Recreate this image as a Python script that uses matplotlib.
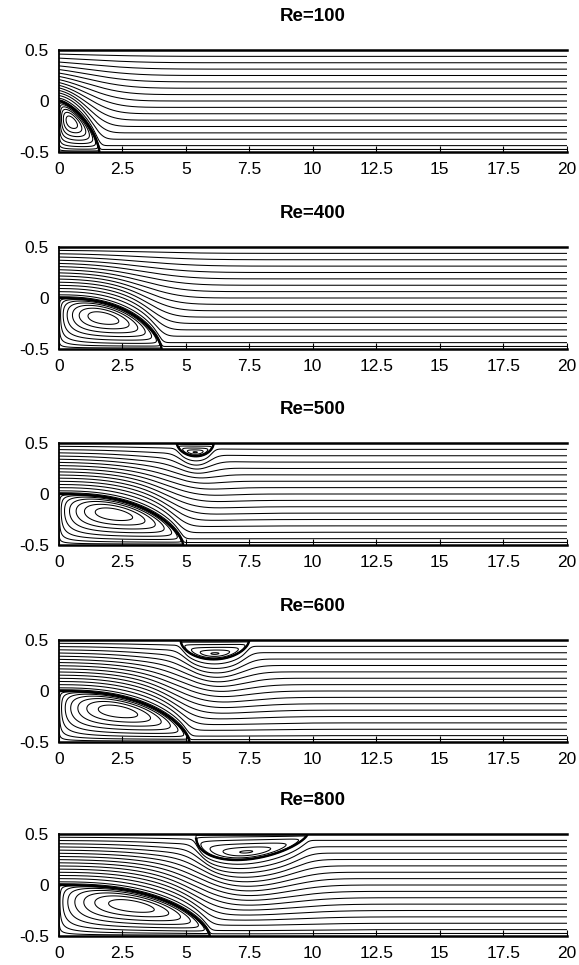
import numpy as np
import matplotlib
matplotlib.use("Agg")
import matplotlib.pyplot as plt

plt.rcParams['font.family'] = ['Liberation Sans', 'DejaVu Sans']

# Reynolds numbers of the five panels
re_values = [100, 400, 500, 600, 800]

# primary eddy behind the step (bottom wall): reattachment length, shape, centre (fraction)
lower_len = [1.6, 4.05, 4.9, 5.15, 5.95]
lower_shape = [1.5, 2.5, 2.5, 2.5, 2.5]
lower_centre = [0.31, 0.43, 0.44, 0.45, 0.48]

# secondary eddy on the top wall (depth 0 = none)
upper_start = [0.0, 0.0, 4.65, 4.8, 5.4]
upper_end = [0.0, 0.0, 6.1, 7.5, 9.8]
upper_depth = [0.0, 0.0, 0.13, 0.19, 0.255]
upper_low_x = [0.0, 0.0, 5.4, 6.1, 7.0]
upper_centre = [0.5, 0.5, 0.5, 0.5, 0.45]

x_ticks = [0, 2.5, 5, 7.5, 10, 12.5, 15, 17.5, 20]
x_labels = ['0', '2.5', '5', '7.5', '10', '12.5', '15', '17.5', '20']
y_ticks = [-0.5, 0, 0.5]
y_labels = ['-0.5', '0', '0.5']

# streamline levels
main_levels = [0.025] + [k / 16 for k in range(1, 16)]
lower_levels = [0.004, 0.03, 0.1, 0.22, 0.38, 0.56, 0.74, 0.9]
upper_levels = [0.004, 0.04, 0.2, 0.5, 0.8, 0.985]

x = np.linspace(0, 20, 2001)
y = np.linspace(-0.5, 0.5, 501)
dx = x[1] - x[0]
XX, YY = np.meshgrid(x, y)


def lower_height(xv, L, p):
    s = np.clip(xv / L, 0, 1)
    return 0.5 * (1 - s ** p) ** (1 / 1.5)


def upper_dip(xv, a, b, d, xl):
    if d <= 0:
        return np.zeros_like(xv)
    s = np.clip((xv - a) / (b - a), 0, 1)
    sl = (xl - a) / (b - a)
    m, n = 1.1 * sl, 1.1 * (1 - sl)
    return d * s ** m * (1 - s) ** n / (sl ** m * (1 - sl) ** n)


def smooth(v, sigma):
    if sigma < dx:
        return v
    half = int(4 * sigma / dx)
    k = np.exp(-0.5 * (np.arange(-half, half + 1) * dx / sigma) ** 2)
    k /= k.sum()
    vp = np.concatenate([np.full(half, v[0]), v, np.full(half, v[-1])])
    return np.convolve(vp, k, mode='valid')


fig = plt.figure(figsize=(5.79, 9.65), dpi=100)
tops = [50, 247, 443, 640, 834]

for i, re in enumerate(re_values):
    ax = fig.add_axes([58.7 / 579, 1 - (tops[i] + 102) / 965, 508 / 579, 102 / 965])

    L = lower_len[i]
    h = lower_height(x, L, lower_shape[i])
    B = -0.5 + h
    D = upper_dip(x, upper_start[i], upper_end[i], upper_depth[i], upper_low_x[i])
    T = 0.5 - D

    # primary eddy
    hh = lower_height(XX, L, lower_shape[i])
    inside = (XX < L) & (YY + 0.5 < hh) & (hh > 0)
    Xn = np.clip(XX / L, 0, 1)
    Yn = np.where(inside, (YY + 0.5) / np.where(hh > 0, hh, 1), 0)
    c = lower_centre[i]
    f = np.where(inside, Xn ** (2.2 * c) * (1 - Xn) ** (2.2 * (1 - c)) * Yn ** 2 * (1 - Yn), 0)
    f /= f.max()
    ax.contour(x, y, f, levels=lower_levels, colors='k', linewidths=0.75)

    # secondary eddy
    if upper_depth[i] > 0:
        a, b = upper_start[i], upper_end[i]
        DD = upper_dip(XX, a, b, upper_depth[i], upper_low_x[i])
        inside = (DD > 0) & (0.5 - YY < DD)
        Xn = np.clip((XX - a) / (b - a), 0, 1)
        Yn = np.where(inside, (0.5 - YY) / np.where(DD > 0, DD, 1), 0)
        c = upper_centre[i]
        g = np.where(inside, Xn ** (2.2 * c) * (1 - Xn) ** (2.2 * (1 - c)) * Yn ** 2.33 * (1 - Yn), 0)
        g /= g.max()
        ax.contour(x, y, g, levels=upper_levels, colors='k', linewidths=0.75)
        m = D > 0
        ax.plot(x[m], T[m], color='k', lw=1.7)

    # through-flow streamlines
    for e in main_levels:
        Bs = smooth(B, 2.0 * e)
        Ts = smooth(T, 2.0 * (1 - e))
        ax.plot(x, Bs + e * (Ts - Bs), color='k', lw=0.75)

    # dividing streamline of the primary eddy
    m = x <= L
    ax.plot(x[m], B[m], color='k', lw=1.7)

    ax.set_xlim(0, 20)
    ax.set_ylim(-0.5, 0.5)
    ax.set_xticks(x_ticks)
    ax.set_xticklabels(x_labels)
    ax.set_yticks(y_ticks)
    ax.set_yticklabels(y_labels)
    ax.tick_params(axis='x', direction='in', length=4, pad=7, labelsize=12.5)
    ax.tick_params(axis='y', direction='in', length=0, pad=7, labelsize=12.5)
    ax.spines['right'].set_visible(False)
    ax.spines['top'].set_linewidth(1.8)
    ax.spines['bottom'].set_linewidth(1.8)
    ax.spines['left'].set_linewidth(1.3)
    ax.set_title('Re=%d' % re, fontsize=13.5, fontweight='bold', pad=21)

fig.savefig('out.png', dpi=100)
